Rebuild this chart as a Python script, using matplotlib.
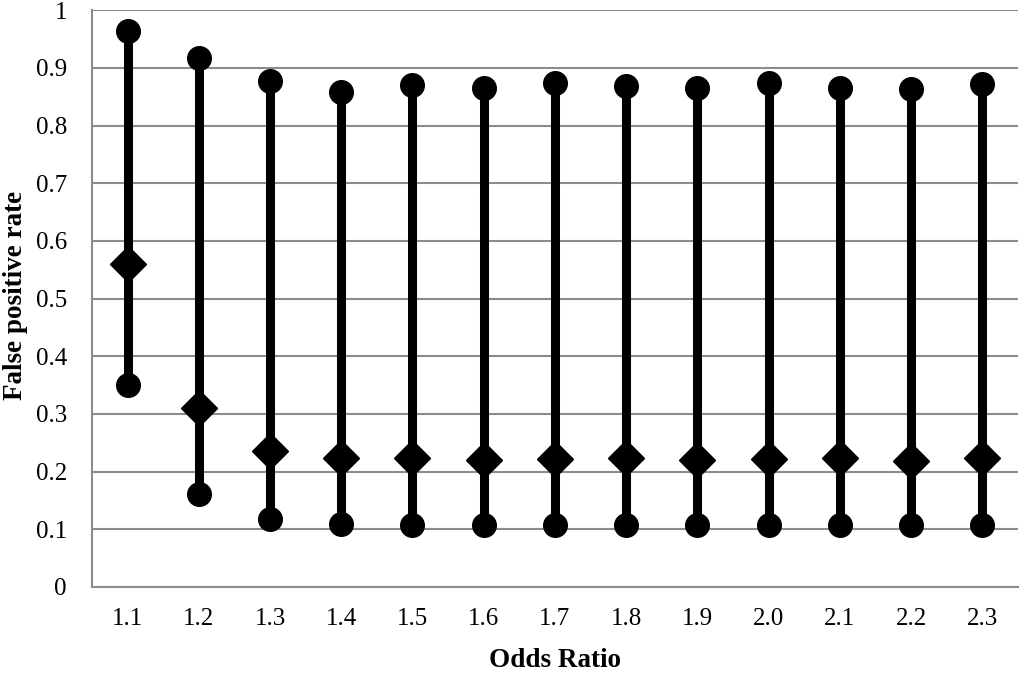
import matplotlib
matplotlib.use("Agg")
import matplotlib.pyplot as plt

odds_ratio = ["1.1", "1.2", "1.3", "1.4", "1.5", "1.6", "1.7",
              "1.8", "1.9", "2.0", "2.1", "2.2", "2.3"]
upper = [0.964, 0.917, 0.877, 0.859, 0.870, 0.865, 0.873,
         0.868, 0.865, 0.873, 0.865, 0.864, 0.872]
middle = [0.560, 0.311, 0.236, 0.224, 0.224, 0.220, 0.222,
          0.223, 0.220, 0.222, 0.224, 0.218, 0.224]
lower = [0.350, 0.161, 0.118, 0.109, 0.107, 0.107, 0.107,
         0.107, 0.107, 0.107, 0.107, 0.107, 0.107]

plt.rcParams['font.family'] = ['Liberation Serif', 'DejaVu Serif']

fig = plt.figure(figsize=(10.24, 6.73), dpi=100)
ax = fig.add_axes([0.0898, 0.1278, 0.9042, 0.857])

x = list(range(len(odds_ratio)))
ax.vlines(x, lower, upper, color='black', linewidth=6.5, zorder=3)
ax.plot(x, upper, 'o', color='black', markersize=17, zorder=4)
ax.plot(x, lower, 'o', color='black', markersize=17, zorder=4)
ax.plot(x, middle, 'D', color='black', markersize=18, zorder=5)

ax.set_xlim(-0.5, len(odds_ratio) - 0.5)
ax.set_ylim(0, 1)
ax.set_yticks([i / 10 for i in range(11)])
ax.set_yticklabels(["0", "0.1", "0.2", "0.3", "0.4", "0.5", "0.6",
                    "0.7", "0.8", "0.9", "1"])
ax.set_xticks(x)
ax.set_xticklabels(odds_ratio)
ax.grid(axis='y', color='#8c8c8c', linewidth=1.5, zorder=0)
ax.set_axisbelow(True)

for side in ['top', 'right']:
    ax.spines[side].set_visible(False)
for side in ['left', 'bottom']:
    ax.spines[side].set_color('#8c8c8c')
    ax.spines[side].set_linewidth(1.5)

ax.tick_params(axis='both', length=0, labelsize=18)
ax.tick_params(axis='y', pad=18)
ax.tick_params(axis='x', pad=15)

ax.set_xlabel("Odds Ratio", fontsize=19.5, fontweight='bold', va='center')
ax.set_ylabel("False positive rate", fontsize=19.5, fontweight='bold', va='center')
ax.xaxis.set_label_coords(0.5, -0.127)
ax.yaxis.set_label_coords(-0.083, 0.505)

fig.savefig("out.png", dpi=100)
